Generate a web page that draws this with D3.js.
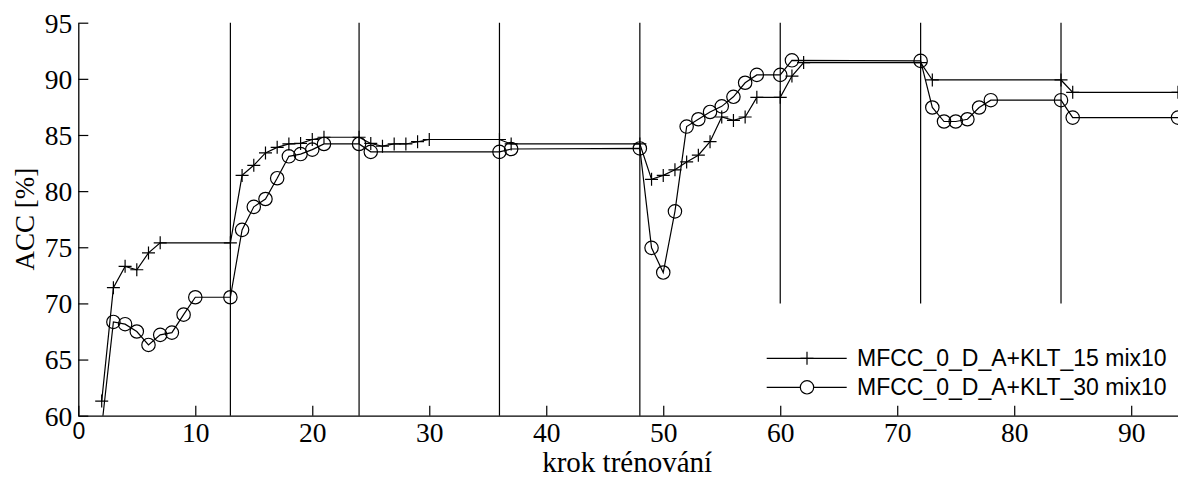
<!DOCTYPE html>
<html>
<head>
<meta charset="utf-8">
<script src="https://cdn.jsdelivr.net/npm/d3@7"></script>
<style>
  body { margin: 0; background: #fff; }
  svg { display: block; }
</style>
</head>
<body>
<div id="chart"></div>
<script>
// training step vs. accuracy, two feature setups
const steps15 = [2, 3, 4, 5, 6, 7, 13, 14, 15, 16, 17, 18, 19, 20, 21, 24, 25, 26, 27, 28, 29, 30, 36, 37,
  48, 49, 50, 51, 52, 53, 54, 55, 56, 57, 58, 60, 61, 62, 72, 73, 84, 85, 94];
const acc15 = [61.3, 71.4, 73.3, 73.0, 74.5, 75.4, 75.4, 81.4, 82.3, 83.4, 83.9, 84.2, 84.25, 84.6, 84.8,
  84.8, 84.25, 84.0, 84.2, 84.2, 84.4, 84.6, 84.6, 84.2,
  84.2, 81.05, 81.4, 81.9, 82.6, 83.2, 84.4, 86.6, 86.3, 86.6, 88.35, 88.35, 90.25, 91.45, 91.45, 89.9,
  89.9, 88.8, 88.8];

const steps30 = [2, 3, 4, 5, 6, 7, 8, 9, 10, 13, 14, 15, 16, 17, 18, 19, 20, 21, 24, 25, 36, 37,
  48, 49, 50, 51, 52, 53, 54, 55, 56, 57, 58, 60, 61, 72, 73, 74, 75, 76, 77, 78, 84, 85, 94];
const acc30 = [59, 68.35, 68.15, 67.5, 66.3, 67.2, 67.4, 69.0, 70.55, 70.55, 76.55, 78.6, 79.3, 81.15, 83.1,
  83.3, 83.7, 84.2, 84.2, 83.5, 83.5, 83.75,
  83.8, 74.95, 72.75, 78.2, 85.75, 86.4, 87.05, 87.55, 88.4, 89.65, 90.35, 90.35, 91.65, 91.6, 87.45,
  86.2, 86.2, 86.4, 87.45, 88.1, 88.1, 86.55, 86.55];

const dividers = [13, 24, 36, 48, 60, 72, 84];
const dividerBottom = [60, 60, 60, 60, 70, 70, 70];

const xTicks = [0, 10, 20, 30, 40, 50, 60, 70, 80, 90];
const yTicks = [60, 65, 70, 75, 80, 85, 90, 95];

const seriesNames = ["MFCC_0_D_A+KLT_15 mix10", "MFCC_0_D_A+KLT_30 mix10"];

const W = 1178, H = 477;
const plotLeft = 78.3, plotRight = 1178, plotTop = 22.7, plotBottom = 415.7;

const serif = "'Liberation Serif', 'DejaVu Serif', serif";
const sans = "'Liberation Sans', Arial, sans-serif";

const svg = d3.select("#chart").append("svg")
  .attr("width", W)
  .attr("height", H);

const x = d3.scaleLinear().domain([0, 94]).range([plotLeft, plotRight]);
const y = d3.scaleLinear().domain([60, 95]).range([plotBottom, plotTop]);

svg.append("clipPath").attr("id", "plot")
  .append("rect")
  .attr("x", plotLeft).attr("y", plotTop)
  .attr("width", plotRight - plotLeft).attr("height", plotBottom - plotTop);

// axes
const gX = svg.append("g")
  .attr("transform", `translate(0,${plotBottom})`)
  .call(d3.axisBottom(x).tickValues(xTicks).tickSizeInner(-10).tickSizeOuter(0).tickPadding(9));

const gY = svg.append("g")
  .attr("transform", `translate(${plotLeft},0)`)
  .call(d3.axisLeft(y).tickValues(yTicks).tickSizeInner(-10).tickSizeOuter(0).tickPadding(6));

[gX, gY].forEach(g => {
  g.select(".domain").attr("stroke", "#000").attr("stroke-width", 1.3);
  g.selectAll(".tick line").attr("stroke", "#000").attr("stroke-width", 1.2);
  g.selectAll(".tick text")
    .attr("fill", "#000")
    .style("font-family", serif)
    .style("font-size", "27.5px");
});

gX.selectAll(".tick text").attr("dy", "0.62em");
gX.selectAll(".tick text").filter(d => d === 0)
  .style("font-family", sans)
  .style("font-size", "23px");
gY.selectAll(".tick text").attr("dy", "0.34em");

svg.append("text")
  .attr("x", (plotLeft + plotRight) / 2 - 1)
  .attr("y", 472)
  .attr("text-anchor", "middle")
  .style("font-family", serif)
  .style("font-size", "29px")
  .text("krok trénování");

svg.append("text")
  .attr("transform", `translate(34,${(plotTop + plotBottom) / 2}) rotate(-90)`)
  .attr("text-anchor", "middle")
  .style("font-family", serif)
  .style("font-size", "27px")
  .text("ACC [%]");

// vertical separators
svg.append("g").selectAll("line")
  .data(dividers)
  .join("line")
  .attr("x1", d => x(d)).attr("x2", d => x(d))
  .attr("y1", y(95))
  .attr("y2", (d, i) => y(dividerBottom[i]))
  .attr("stroke", "#000")
  .attr("stroke-width", 1.2);

const plot = svg.append("g").attr("clip-path", "url(#plot)");

const line = d3.line()
  .x(d => x(d[0]))
  .y(d => y(d[1]));

const data15 = steps15.map((s, i) => [s, acc15[i]]);
const data30 = steps30.map((s, i) => [s, acc30[i]]);

function plusPath(cx, cy, r) {
  return `M${cx - r},${cy}H${cx + r}M${cx},${cy - r}V${cy + r}`;
}

plot.append("path")
  .datum(data15)
  .attr("fill", "none")
  .attr("stroke", "#000")
  .attr("stroke-width", 1.2)
  .attr("d", line);

plot.append("g").selectAll("path")
  .data(data15)
  .join("path")
  .attr("d", d => plusPath(x(d[0]), y(d[1]), 6.5))
  .attr("stroke", "#000")
  .attr("stroke-width", 1.2);

plot.append("path")
  .datum(data30)
  .attr("fill", "none")
  .attr("stroke", "#000")
  .attr("stroke-width", 1.2)
  .attr("d", line);

plot.append("g").selectAll("circle")
  .data(data30)
  .join("circle")
  .attr("cx", d => x(d[0]))
  .attr("cy", d => y(d[1]))
  .attr("r", 6.7)
  .attr("fill", "none")
  .attr("stroke", "#000")
  .attr("stroke-width", 1.2);

// legend (no box)
const legend = svg.append("g");
const legY = [358.3, 387.3];
seriesNames.forEach((name, i) => {
  const g = legend.append("g");
  g.append("line")
    .attr("x1", 766.7).attr("x2", 846.7)
    .attr("y1", legY[i]).attr("y2", legY[i])
    .attr("stroke", "#000").attr("stroke-width", 1.2);
  if (i === 0) {
    g.append("path")
      .attr("d", plusPath(807, legY[i], 6.5))
      .attr("stroke", "#000").attr("stroke-width", 1.2);
  } else {
    g.append("circle")
      .attr("cx", 807).attr("cy", legY[i]).attr("r", 6.7)
      .attr("fill", "#fff").attr("stroke", "#000").attr("stroke-width", 1.2);
  }
  g.append("text")
    .attr("x", 857)
    .attr("y", legY[i])
    .attr("dy", "0.35em")
    .style("font-family", sans)
    .style("font-size", "23px")
    .text(name);
});
</script>
</body>
</html>
